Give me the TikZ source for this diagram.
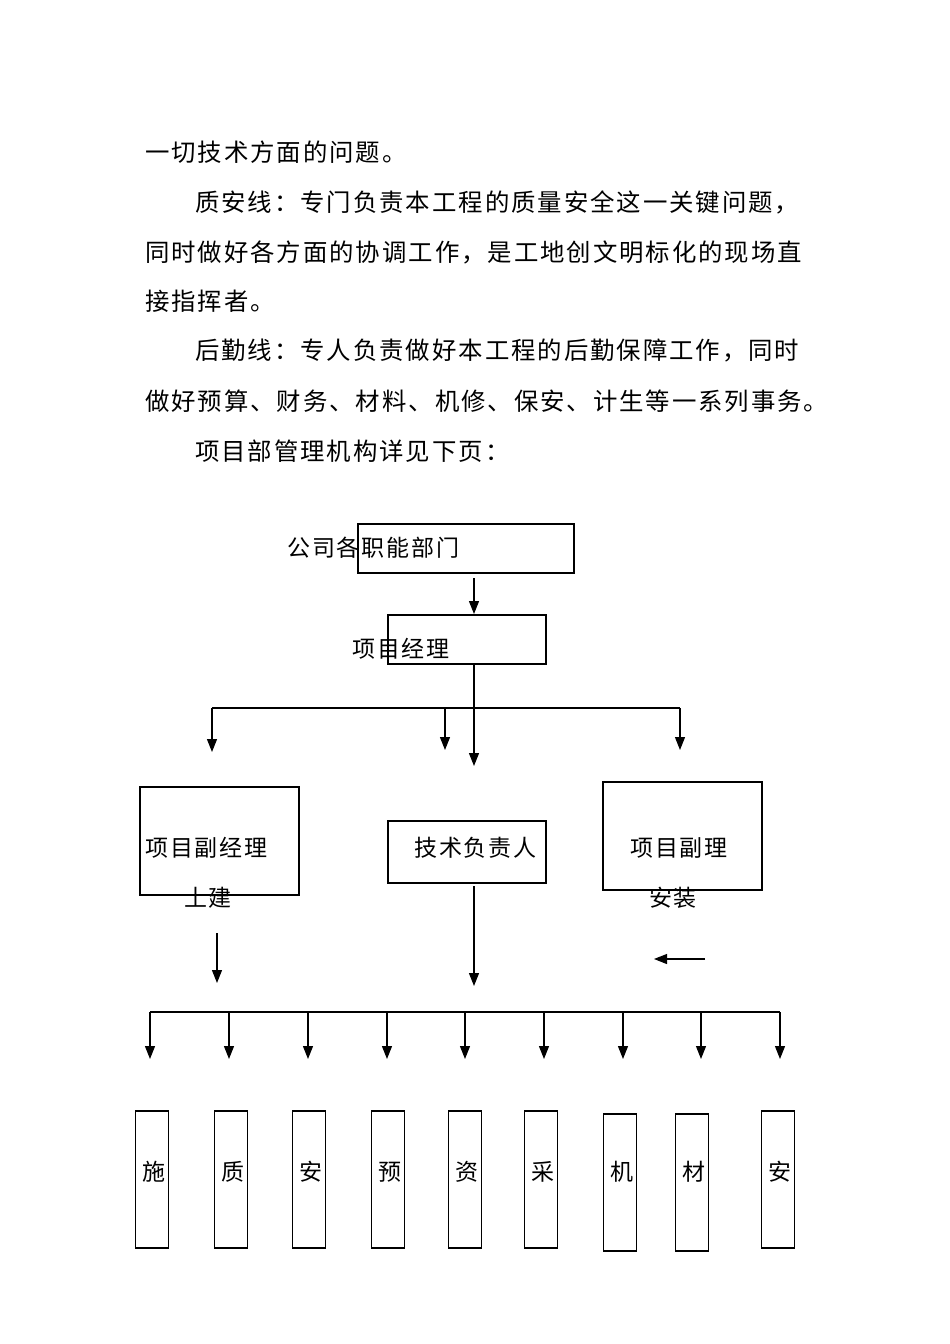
\documentclass[tikz,border=0pt]{standalone}
\usepackage{fontspec}
\setmainfont{Noto Sans CJK SC}[LetterSpace=8]
\usetikzlibrary{arrows.meta}
\begin{document}
\begin{tikzpicture}[x=1pt,y=-1pt,
  bx/.style={draw,line width=1.1pt,inner sep=0pt},
  ln/.style={line width=1.1pt},
  ar/.style={line width=1.1pt,-{Triangle[length=13pt,width=10pt]}},
  tx/.style={font=\fontsize{23}{24}\selectfont,inner sep=0pt,anchor=west},
  pt/.style={font=\fontsize{24.4}{26}\selectfont,inner sep=0pt,anchor=west},
  col/.style={draw,line width=1.1pt,minimum width=33pt,minimum height=137pt,inner sep=0pt}]
\useasboundingbox (0,0) rectangle (950,1344);
\node[pt] (p1) at (145,152) {一切技术方面的问题。};
\node[pt] (p2) at (195,202) {质安线：专门负责本工程的质量安全这一关键问题，};
\node[pt] (p3) at (145,252) {同时做好各方面的协调工作，是工地创文明标化的现场直};
\node[pt] (p4) at (145,301) {接指挥者。};
\node[pt] (p5) at (195,351) {后勤线：专人负责做好本工程的后勤保障工作，同时};
\node[pt] (p6) at (145,401) {做好预算、财务、材料、机修、保安、计生等一系列事务。};
\node[pt] (p7) at (195,451) {项目部管理机构详见下页：};

\node[bx,minimum width=216pt,minimum height=49pt] (b1) at (466,548.5) {};
\node[tx] (t1) at (287,548) {公司各职能部门};
\node[bx,minimum width=158pt,minimum height=49pt] (b2) at (467,639.5) {};
\node[tx] (t2) at (352,649) {项目经理};
\node[bx,minimum width=159pt,minimum height=108pt] (b3) at (219.5,841) {};
\node[tx] (t3) at (145,848) {项目副经理};
\node[tx,anchor=center] (t3b) at (208,898) {土建};
\node[bx,minimum width=158pt,minimum height=62pt] (b4) at (467,852) {};
\node[tx] (t4) at (414,848) {技术负责人};
\node[bx,minimum width=159pt,minimum height=108pt] (b5) at (682.5,836) {};
\node[tx] (t5) at (630,848) {项目副理};
\node[tx,anchor=center] (t5b) at (673,898) {安装};

\coordinate (a1s) at (474,578); \coordinate (a1e) at (474,614);
\draw[ar] (a1s) -- (a1e);
\coordinate (m1) at (474,665); \coordinate (m2) at (474,766);
\draw[ar] (m1) -- (m2);
\coordinate (hL) at (212,708); \coordinate (hR) at (680,708);
\draw[ln] (hL) -- (hR);
\coordinate (hM) at (445,708);
\coordinate (eL) at (212,752); \coordinate (eM) at (445,750); \coordinate (eR) at (680,750);
\draw[ar] (hL) -- (eL); \draw[ar] (hM) -- (eM); \draw[ar] (hR) -- (eR);
\coordinate (l1) at (217,933); \coordinate (l2) at (217,983);
\draw[ar] (l1) -- (l2);
\coordinate (c1) at (474,886); \coordinate (c2) at (474,986);
\draw[ar] (c1) -- (c2);
\coordinate (r1) at (705,959); \coordinate (r2) at (654,959);
\draw[ar] (r1) -- (r2);
\coordinate (bL) at (150,1012); \coordinate (bR) at (780,1012);
\draw[ln] (bL) -- (bR);
\foreach \x/\c/\cx/\cy in {150/施/152/1179.5, 229/质/231/1179.5, 308/安/309/1179.5, 387/预/388/1179.5, 465/资/465/1179.5, 544/采/541/1179.5, 623/机/620/1182.5, 701/材/692/1182.5, 780/安/778/1179.5}{
  \coordinate (s\x) at (\x,1012); \coordinate (e\x) at (\x,1059);
  \draw[ar] (s\x) -- (e\x);
  \node[col] (k\x) at (\cx,\cy) {};
  \node[font=\fontsize{23}{24}\selectfont,inner sep=0pt] (q\x) at (\cx+2,1172) {\c};
}
\end{tikzpicture}
\end{document}
